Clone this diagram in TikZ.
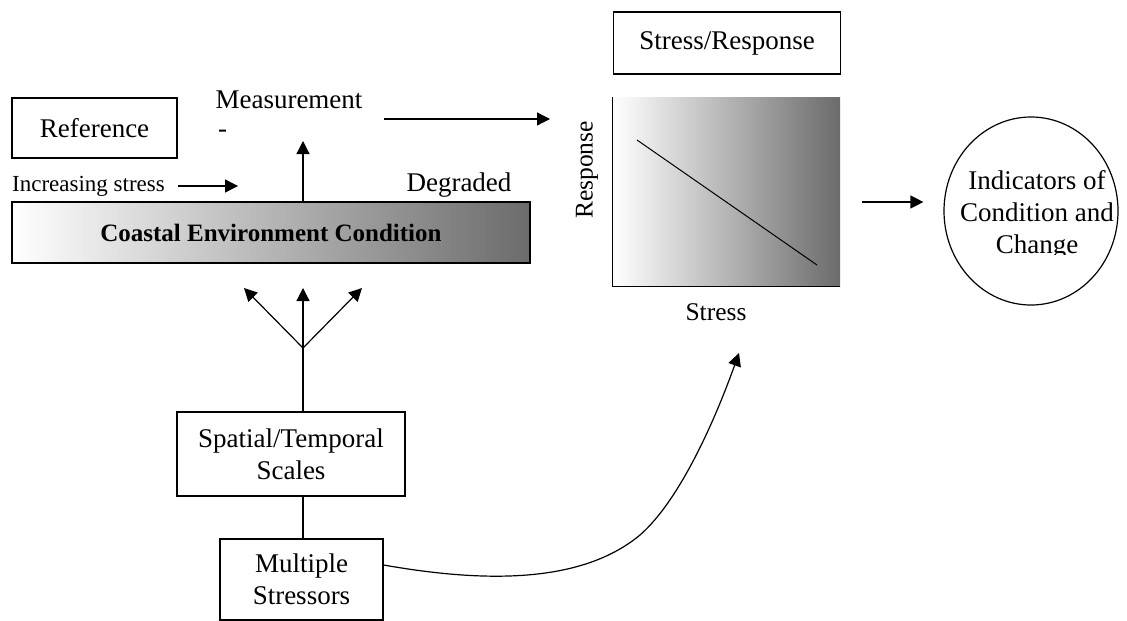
\documentclass[tikz,border=0pt]{standalone}
\usepackage{fontspec}
\setmainfont{Liberation Serif}
\usetikzlibrary{arrows.meta,shapes.geometric}
\newcommand{\bigfont}{\fontsize{27}{32}\selectfont}
\newcommand{\smallfont}{\fontsize{23}{28}\selectfont}
\newcommand{\axisfont}{\fontsize{25.5}{30}\selectfont}
\newcommand{\boldfont}{\fontsize{25}{30}\selectfont\bfseries}

\begin{document}
\begin{tikzpicture}[x=1pt,y=-1pt,
box/.style={draw,line width=1.2pt,align=center,inner sep=0pt,font=\bigfont},
shadebox/.style={left color=white,right color=black!58,inner sep=0pt},
arr/.style={-{Triangle[length=13pt,width=13pt]},line width=1.2pt},
txt/.style={inner sep=0pt,font=\bigfont}]
\useasboundingbox (0,0) rectangle (1127,621);
\node[box,minimum width=165pt,minimum height=60pt] (ref) at (94.5,128) {Reference};
\node[txt] (meas) at (289,100) {Measurement};
\node[txt,anchor=west] (measdash) at (218,134) {-};
\node[txt,font=\smallfont,anchor=west] (incr) at (12,186) {Increasing stress};
\node[txt] (degr) at (459,185) {Degraded};
\node[box,shadebox,minimum width=518pt,minimum height=61pt,font=\boldfont] (coast) at (271,232.5) {Coastal Environment Condition};
\draw[arr] ([xshift=13pt]incr.east) -- ++(60,0);
\coordinate (root) at (303,348);
\coordinate (mtip) at (303,141);
\coordinate (mfrom) at (384,119);
\coordinate (mto) at (550,119);
\draw[arr] (coast.north -| root) -- (mtip);
\draw[arr] (mfrom) -- (mto);
\foreach \dx in {-59,0,59}
{
	\draw[arr] (root) -- ++(\dx,-60);
}
\node[box,minimum width=228pt,minimum height=84pt] (scale) at (291,454) {Spatial/Temporal\\Scales};
\node[box,minimum width=163pt,minimum height=81pt] (multi) at (301.5,579.5) {Multiple\\Stressors};
\draw[line width=1.2pt] (root) -- (scale.north -| root);
\draw[line width=1.2pt] (scale.south -| root) -- (multi.north -| root);
\coordinate (stip) at (739,353);
\draw[arr] ([yshift=14.5pt]multi.east) .. controls (480,582) and (580,585) .. (640,535) .. controls (680,500) and (715,420) .. (stip);
\node[box,minimum width=227pt,minimum height=62pt] (sr) at (727,43) {Stress/Response};
\node[shadebox,minimum width=227pt,minimum height=189pt] (graph) at (726.5,191.5) {};
\draw[line width=1.2pt] (graph.north west) -- (graph.south west) -- (graph.south east);
\draw[line width=1pt] (637,140) -- (817,265);
\node[txt,font=\axisfont,rotate=90] (resp) at (587,170) {Response};
\node[txt,font=\axisfont] (stress) at (716,312) {Stress};
\node[draw,ellipse,line width=1.2pt,minimum width=174pt,minimum height=188pt] (ind) at (1031,211) {};
\begin{scope}
\clip (940,100) rectangle (1125,254);
\node[txt,align=center] (indtxt) at (1037,215) {Indicators of\\Condition and\\Change};
\end{scope}
\draw[arr] ([xshift=22pt,yshift=-10.5pt]graph.east) -- ([xshift=-20pt,yshift=9pt]ind.west);
\end{tikzpicture}
\end{document}
